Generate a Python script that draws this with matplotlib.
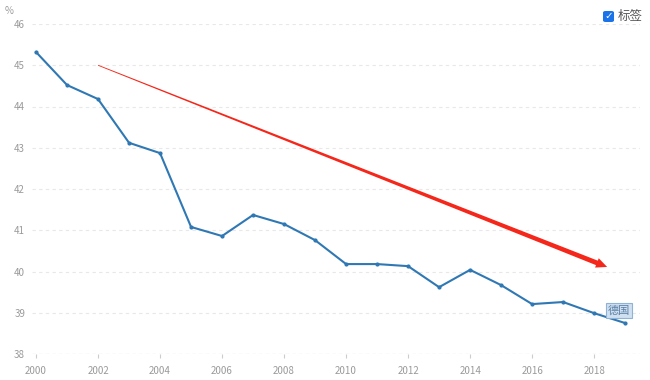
import matplotlib
matplotlib.use("Agg")
import matplotlib.pyplot as plt
from matplotlib.patches import Polygon, FancyBboxPatch
import numpy as np

plt.rcParams['font.family'] = ['Noto Sans CJK SC', 'DejaVu Sans']

years = list(range(2000, 2020))
values = [45.32, 44.52, 44.18, 43.12, 42.87, 41.08, 40.86, 41.37, 41.15, 40.76,
          40.18, 40.18, 40.13, 39.62, 40.04, 39.67, 39.21, 39.26, 38.99, 38.75]
series_name = "德国"
y_unit = "%"
legend_label = "标签"
arrow_start = (2002, 45.0)
arrow_end = (2018.42, 40.11)

fig = plt.figure(figsize=(6.5, 3.8), dpi=100)
ax = fig.add_axes([32 / 650, 1 - 354 / 380, 608 / 650, 330 / 380])

ax.plot(years, values, color='#2f78b4', lw=1.5, marker='o', ms=2, zorder=3)

ax.set_xlim(1999.87, 2019.48)
ax.set_ylim(38, 46)
ax.set_xticks(range(2000, 2019, 2))
ax.set_yticks(range(38, 47))
ax.tick_params(axis='both', labelsize=7, labelcolor='#9a9a9a', colors='#cccccc')
ax.tick_params(axis='y', length=0, pad=5)
ax.tick_params(axis='x', length=3, pad=6)
for s in ax.spines.values():
    s.set_visible(False)
ax.grid(axis='y', color='#e8e8e8', ls=(0, (3, 3)), lw=0.8)
ax.axhline(38, color='#d0d0d0', ls=(0, (3, 3)), lw=0.8)

fig.text(5 / 650, 1 - 11 / 380, y_unit, fontsize=7, color='#9a9a9a', va='center')

# last point label
ax.annotate(series_name, (years[-1], values[-1]), xytext=(-4.5, 9), textcoords='offset points',
            ha='center', va='center', fontsize=8, color='#5a7fa5',
            bbox=dict(boxstyle='square,pad=0.2', fc='#cfe0f1', ec='#8fb3d6', lw=0.8))

# tapered red arrow drawn in display coordinates
fig.canvas.draw()
p0 = ax.transData.transform(arrow_start)
p1 = ax.transData.transform(arrow_end)
d = (p1 - p0) / np.linalg.norm(p1 - p0)
n = np.array([-d[1], d[0]])
head_len, head_w = 11, 5
base = p1 - d * head_len
w0, w1 = 0.4, 2.4
pts = [p0 + n * w0, base + n * w1, base + n * head_w, p1,
       base - n * head_w, base - n * w1, p0 - n * w0]
ax.add_patch(Polygon(pts, closed=True, transform=None, fc='#f5261a', ec='none', zorder=4))

# checkbox legend
cb = FancyBboxPatch((603 / 650, 1 - 22 / 380), 11 / 650, 11 / 380,
                    boxstyle='round,pad=0,rounding_size=0.004', transform=fig.transFigure,
                    fc='#1a73e8', ec='none')
fig.patches.append(cb)
fig.text(608.5 / 650, 1 - 16.5 / 380, "✓", color='white', fontsize=7.5, ha='center', va='center',
         fontweight='bold', family='DejaVu Sans')
fig.text(618 / 650, 1 - 16 / 380, legend_label, color='#555555', fontsize=9, va='center')

fig.savefig("out.png", dpi=100)
